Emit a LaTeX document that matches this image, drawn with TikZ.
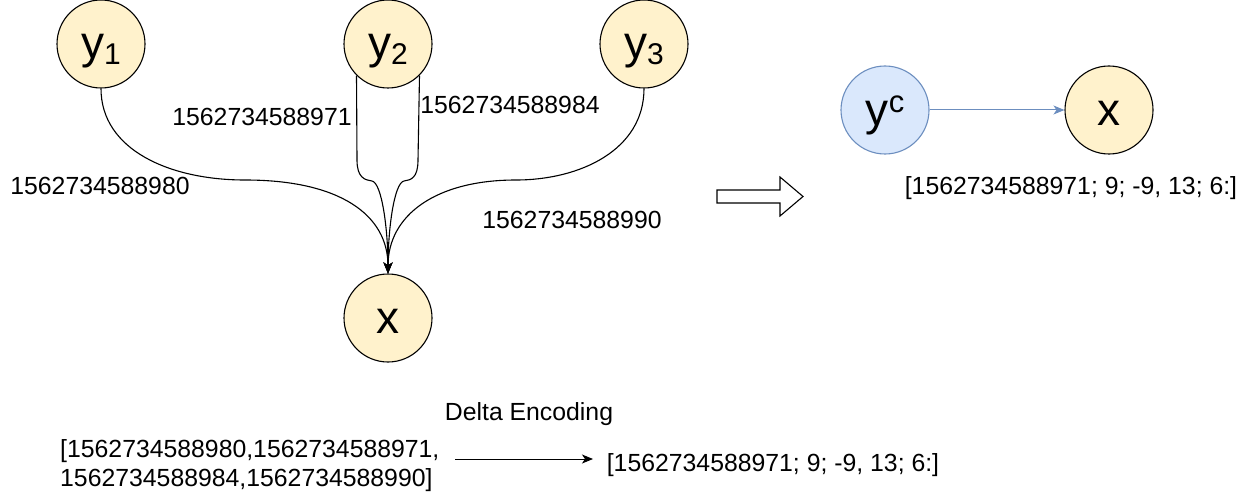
\documentclass[tikz,border=0pt]{standalone}
\usepackage{fontspec}
\setmainfont{Liberation Sans}
\usetikzlibrary{arrows.meta}
\definecolor{nodefill}{HTML}{FFF2CC}
\definecolor{cfill}{HTML}{DAE8FC}
\definecolor{cline}{HTML}{6C8EBF}
\newcommand{\lblfont}{\fontsize{24.8}{29}\selectfont}
\newcommand{\varfont}{\fontsize{46}{46}\selectfont}
\newcommand{\lowidx}[1]{\raisebox{-6pt}{\fontsize{30}{30}\selectfont #1}}
\newcommand{\highidx}[1]{\raisebox{13pt}{\fontsize{31}{31}\selectfont #1}}
\tikzset{
  var/.style={circle, draw=black, line width=1.1pt, fill=nodefill,
    minimum size=88pt, inner sep=0pt, font=\varfont,
    text height=40pt, text depth=10pt},
  cvar/.style={var, draw=cline, fill=cfill},
  txt/.style={inner sep=0pt, font=\lblfont},
  conn/.style={line width=1.1pt, -{Stealth[length=11pt, width=9pt, inset=3pt]}},
  bconn/.style={line width=1pt, draw=cline,
    -{Stealth[length=11pt, width=9pt, inset=3pt, fill=cline]}},
  bigarrow/.style={draw=black, line width=1.1pt, fill=white, line join=miter}
}
\begin{document}
\begin{tikzpicture}[x=1pt, y=-1pt]
\useasboundingbox (0,0) rectangle (1255,500);

% source values and the merged target
\node[var] (y1) at (101,44) {y\lowidx{1}};
\node[var] (y2) at (388,44) {y\lowidx{2}};
\node[var] (y3) at (644,44) {y\lowidx{3}};
\node[var] (x)  at (388,318) {x};

% edges with their time stamps
\draw[conn] (y1.south) .. controls (101,150) and (170,180) .. (245,180)
  .. controls (340,180) and (388,215) .. (x.north);
\draw[conn] (y3.south) .. controls (644,150) and (580,180) .. (516,180)
  .. controls (436,180) and (388,215) .. (x.north);
\draw[conn] (y2.225) -- (357,160) .. controls (357,178) and (365,180) .. (372,181)
  .. controls (382,183) and (388,230) .. (x.north);
\draw[conn] (y2.315) -- (418,160) .. controls (418,178) and (411,180) .. (404,181)
  .. controls (394,183) and (388,230) .. (x.north);

\node[txt] (t71) at (262,117) {1562734588971};
\node[txt] (t84) at (510,105) {1562734588984};
\node[txt] (t80) at (100,186) {1562734588980};
\node[txt] (t90) at (572,220) {1562734588990};

% transformation arrow
\draw[bigarrow] (717,190) -- (780,190) -- (780,177) -- (803,196.5)
  -- (780,216) -- (780,203) -- (717,203) -- cycle;

% compressed edge
\node[cvar] (yc) at (885,110) {y\highidx{c}};
\node[var] (x2) at (1109,110) {x};
\draw[bconn] (yc) -- (x2);
\node[txt] (enc1) at (1071,188) {[1562734588971; 9; -9, 13; 6:]};

% delta encoding of the time stamps
\node[txt, align=left, anchor=west] (raw) at (60,466)
  {[1562734588980,1562734588971,\\1562734588984,1562734588990]};
\node[txt] (enc2) at (773,465) {[1562734588971; 9; -9, 13; 6:]};
\node[txt] (de) at (529,414) {Delta Encoding};
\coordinate (as) at (455,459);
\coordinate (ae) at (593,459);
\draw[conn, line width=1pt] (as) -- (ae);
\end{tikzpicture}
\end{document}
